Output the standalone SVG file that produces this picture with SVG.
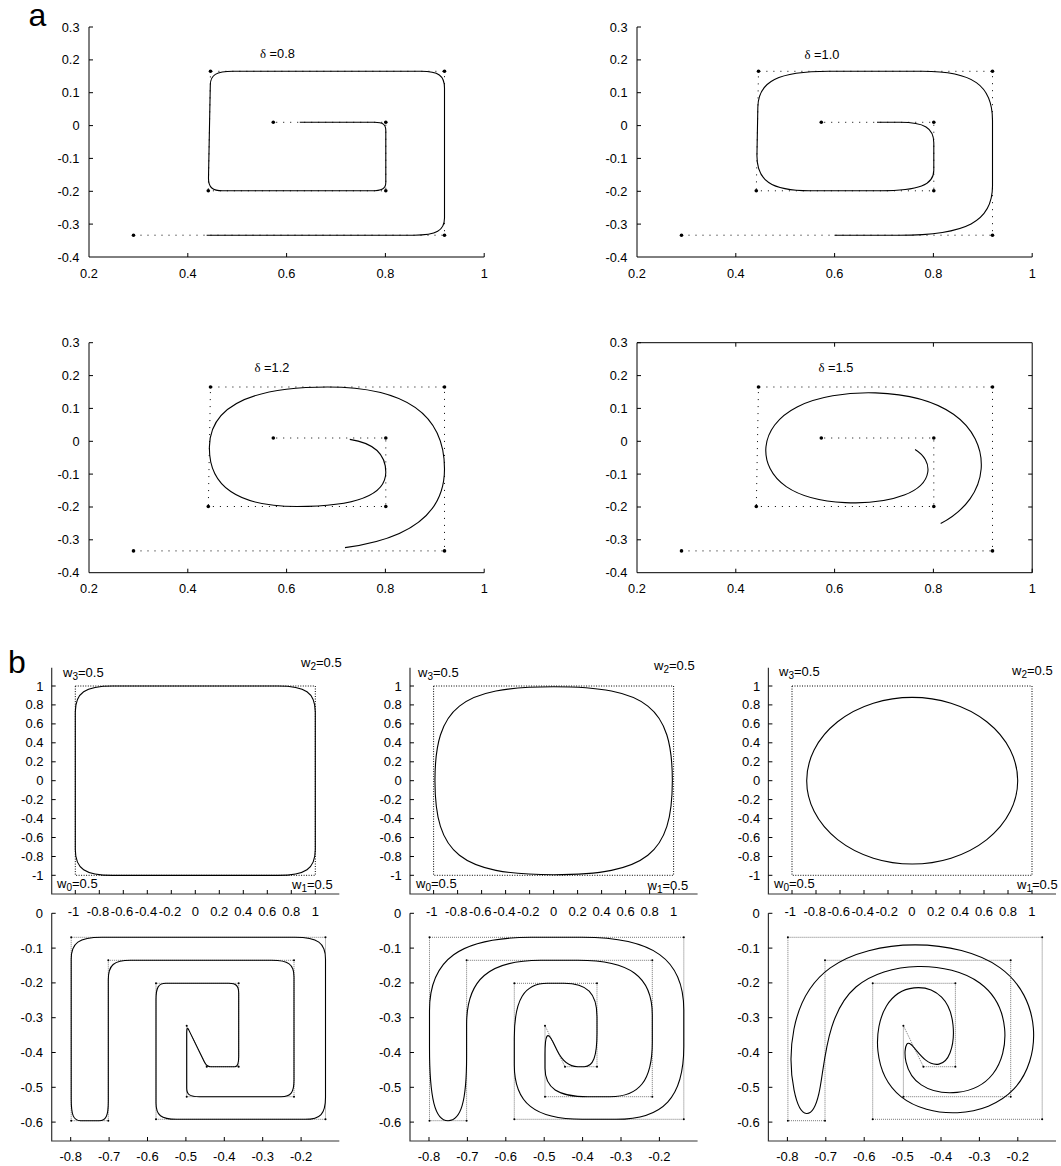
<svg xmlns="http://www.w3.org/2000/svg" width="1061" height="1166" viewBox="0 0 1061 1166">
<style>
.ax{fill:none;stroke:#000;stroke-width:1}
.axb{fill:none;stroke:#333;stroke-width:1.2}
.t{font-family:"Liberation Sans",Arial,Helvetica,sans-serif;fill:#000}
.ta{font-size:12.8px}
.tb{font-size:13px}
.tw{font-size:13px}
.r{text-anchor:end}
.m{text-anchor:middle}
.poly{fill:none;stroke:#000;stroke-width:1;stroke-dasharray:1 6}
.rect{fill:none;stroke:#000;stroke-width:1;stroke-dasharray:1 1.5}
.bpoly{fill:none;stroke:#555;stroke-width:0.8;stroke-dasharray:1 1}
.cv{fill:none;stroke:#000;stroke-width:1.1}
.big{font-size:32px}
.sym{font-family:"Liberation Serif","Times New Roman",serif}
</style>
<defs>
<g id="aAxes">
<path class="ax" d="M89,27 V257 H484.2 M89,27 h4 M89,59.9 h4 M89,92.7 h4 M89,125.6 h4 M89,158.4 h4 M89,191.3 h4 M89,224.1 h4 M187.8,257 v-4 M286.6,257 v-4 M385.4,257 v-4 M484.2,257 v-4"/>
<g class="t ta r">
<text x="79.5" y="31.5">0.3</text><text x="79.5" y="64.4">0.2</text><text x="79.5" y="97.2">0.1</text><text x="79.5" y="130.1">0</text><text x="79.5" y="162.9">-0.1</text><text x="79.5" y="195.8">-0.2</text><text x="79.5" y="228.6">-0.3</text><text x="79.5" y="261.5">-0.4</text>
</g>
<g class="t ta m">
<text x="89" y="277.5">0.2</text><text x="187.8" y="277.5">0.4</text><text x="286.6" y="277.5">0.6</text><text x="385.4" y="277.5">0.8</text><text x="484.2" y="277.5">1</text>
</g>
</g>
<g id="aPoly">
<polyline class="poly" points="133.5,235.2 444.5,235.2 444.5,71.3 210.5,71.3 208.3,190.8 385.8,190.8 385.8,122.3 273.3,122.3"/>
<g fill="#000">
<circle cx="133.5" cy="235.2" r="1.8"/><circle cx="444.5" cy="235.2" r="1.8"/><circle cx="444.5" cy="71.3" r="1.8"/><circle cx="210.5" cy="71.3" r="1.8"/><circle cx="208.3" cy="190.8" r="1.8"/><circle cx="385.8" cy="190.8" r="1.8"/><circle cx="385.8" cy="122.3" r="1.8"/><circle cx="273.3" cy="122.3" r="1.8"/>
</g>
</g>
<g id="bTopAxes">
<path class="axb" d="M51.7,667.7 V894 H339.3"/>
<path class="ax" d="M51.7,686 h4 M51.7,704.9 h4 M51.7,723.9 h4 M51.7,742.8 h4 M51.7,761.8 h4 M51.7,780.7 h4 M51.7,799.6 h4 M51.7,818.6 h4 M51.7,837.5 h4 M51.7,856.5 h4 M51.7,875.3 h4 M75.3,894 v-4 M99.3,894 v-4 M123.3,894 v-4 M147.3,894 v-4 M171.3,894 v-4 M195.3,894 v-4 M219.3,894 v-4 M243.3,894 v-4 M267.3,894 v-4 M291.3,894 v-4 M315.3,894 v-4"/>
<g class="t tb r">
<text x="43.5" y="690.5">1</text><text x="43.5" y="709.4">0.8</text><text x="43.5" y="728.4">0.6</text><text x="43.5" y="747.3">0.4</text><text x="43.5" y="766.3">0.2</text><text x="43.5" y="785.2">0</text><text x="43.5" y="804.1">-0.2</text><text x="43.5" y="823.1">-0.4</text><text x="43.5" y="842">-0.6</text><text x="43.5" y="861">-0.8</text><text x="43.5" y="879.8">-1</text>
</g>
<g class="t tb m">
<text x="73.5" y="915.5">-1</text><text x="98" y="915.5">-0.8</text><text x="122" y="915.5">-0.6</text><text x="146" y="915.5">-0.4</text><text x="170" y="915.5">-0.2</text><text x="195.3" y="915.5">0</text><text x="219.3" y="915.5">0.2</text><text x="243.3" y="915.5">0.4</text><text x="267.3" y="915.5">0.6</text><text x="291.3" y="915.5">0.8</text><text x="315.3" y="915.5">1</text>
</g>
<rect class="rect" x="75.3" y="686" width="240" height="189.3"/>
</g>
<g id="bBotAxes">
<path class="axb" d="M51.7,913.3 V1141 H339.3"/>
<path class="ax" d="M51.7,913.3 h4 M51.7,948.1 h4 M51.7,982.9 h4 M51.7,1017.7 h4 M51.7,1052.5 h4 M51.7,1087.3 h4 M51.7,1122.1 h4 M70.7,1141 v-4 M109.1,1141 v-4 M147.5,1141 v-4 M185.9,1141 v-4 M224.3,1141 v-4 M262.7,1141 v-4 M301.1,1141 v-4"/>
<g class="t tb r">
<text x="43" y="917.8">0</text><text x="43" y="952.6">-0.1</text><text x="43" y="987.4">-0.2</text><text x="43" y="1022.2">-0.3</text><text x="43" y="1057">-0.4</text><text x="43" y="1091.8">-0.5</text><text x="43" y="1126.6">-0.6</text>
</g>
<g class="t tb m">
<text x="70.7" y="1160.5">-0.8</text><text x="109.1" y="1160.5">-0.7</text><text x="147.5" y="1160.5">-0.6</text><text x="185.9" y="1160.5">-0.5</text><text x="224.3" y="1160.5">-0.4</text><text x="262.7" y="1160.5">-0.3</text><text x="301.1" y="1160.5">-0.2</text>
</g>
<polygon class="bpoly" points="186.7,1025.7 206.7,1066.7 238.7,1066.7 238.7,983.3 156,983.3 156,1119.3 325.5,1119.3 325.5,937.3 71.2,937.3 71.2,1120.7 108.3,1120.7 108.3,960.3 294,960.3 294,1096.7 186.7,1096.7"/>
<g fill="#000">
<circle cx="186.7" cy="1025.7" r="1"/><circle cx="206.7" cy="1066.7" r="1"/><circle cx="238.7" cy="1066.7" r="1"/><circle cx="238.7" cy="983.3" r="1"/><circle cx="156" cy="983.3" r="1"/><circle cx="156" cy="1119.3" r="1"/><circle cx="325.5" cy="1119.3" r="1"/><circle cx="325.5" cy="937.3" r="1"/><circle cx="71.2" cy="937.3" r="1"/><circle cx="71.2" cy="1120.7" r="1"/><circle cx="108.3" cy="1120.7" r="1"/><circle cx="108.3" cy="960.3" r="1"/><circle cx="294" cy="960.3" r="1"/><circle cx="294" cy="1096.7" r="1"/><circle cx="186.7" cy="1096.7" r="1"/>
</g>
</g>
</defs>

<text class="t big" x="28.5" y="26">a</text>
<text class="t big" x="8" y="673.3">b</text>

<g id="panel-a1">
<use href="#aAxes"/>
<use href="#aPoly"/>
<path class="cv" d="M206.6,235.2 L414,235.2 C436.5,235.2 444.5,230.5 444.5,218 L444.5,88 C444.5,75.5 438.5,71.3 421,71.3 L233,71.3 C216,71.3 210.45,75 210.3,85 L208.5,178 C208.35,187.5 212.8,190.8 222.5,190.8 L371,190.8 C382,190.8 385.8,188.7 385.8,182.5 L385.8,130.5 C385.8,124.3 383,122.3 374.5,122.3 L299.74,122.3"/>
<text class="t ta" x="260" y="58"><tspan class="sym">δ</tspan> =0.8</text>
</g>

<g id="panel-a2" transform="translate(548,0)">
<use href="#aAxes"/>
<use href="#aPoly"/>
<path class="cv" d="M286.5,235.2 L351.2,235.2 C418.38,235.2 444.5,221.43 444.5,186.03 L444.5,120.47 C444.5,85.07 424.84,71.3 374.3,71.3 L280.7,71.3 C230.16,71.3 210.32,81.34 209.84,107.15 L208.96,154.95 C208.48,180.76 223.21,190.8 261.55,190.8 L332.55,190.8 C370.89,190.8 385.8,185.05 385.8,170.25 L385.8,142.85 C385.8,128.05 376.35,122.3 352.05,122.3 L329,122.3"/>
<text class="t ta" x="256.5" y="59"><tspan class="sym">δ</tspan> =1.0</text>
</g>

<g id="panel-a3" transform="translate(0,315.7)">
<use href="#aAxes"/>
<use href="#aPoly"/>
<path class="cv" d="M344.98,231.92 Q444.5,218.81 444.5,153.25 Q444.5,71.3 327.5,71.3 Q210.5,71.3 209.4,131.05 Q208.3,190.8 297.05,190.8 Q385.8,190.8 385.8,156.55 Q385.8,129.15 349.8,123.67"/>
<text class="t ta" x="254.5" y="56"><tspan class="sym">δ</tspan> =1.2</text>
</g>

<g id="panel-a4" transform="translate(548,315.7)">
<use href="#aAxes"/>
<path class="ax" d="M89,27 H484.2 V257 M187.8,27 v4 M286.6,27 v4 M385.4,27 v4 M484.2,59.9 h-4 M484.2,92.7 h-4 M484.2,125.6 h-4 M484.2,158.4 h-4 M484.2,191.3 h-4 M484.2,224.1 h-4"/>
<use href="#aPoly"/>
<path class="cv" d="M392.67,207.88 C444.5,180.57 444.5,125.93 405.5,98.62 C366.5,71.3 288.5,71.3 249.13,91.22 C209.77,111.13 209.03,150.97 238.25,170.88 C267.47,190.8 326.63,190.8 356.22,179.38 C385.8,167.97 385.8,145.13 367.05,133.72"/>
<text class="t ta" x="270.5" y="56"><tspan class="sym">δ</tspan> =1.5</text>
</g>

<g id="panel-b1">
<use href="#bTopAxes"/>
<path class="cv" d="M315.3,712 C315.3,692.5 305.5,686.05 278,686.05 L112.6,686.05 C85.1,686.05 75.3,692.5 75.3,712 L75.3,849.4 C75.3,868.9 85.1,875.35 112.6,875.35 L278,875.35 C305.5,875.35 315.3,868.9 315.3,849.4 Z"/>
<g class="t tw">
<text x="63" y="677">w<tspan font-size="10" dy="3">3</tspan><tspan dy="-3">=0.5</tspan></text>
<text x="301" y="667">w<tspan font-size="10" dy="3">2</tspan><tspan dy="-3">=0.5</tspan></text>
<text x="57" y="888">w<tspan font-size="10" dy="3">0</tspan><tspan dy="-3">=0.5</tspan></text>
<text x="292" y="888.5">w<tspan font-size="10" dy="3">1</tspan><tspan dy="-3">=0.5</tspan></text>
</g>
</g>

<g id="panel-b2">
<g transform="translate(358.3,0)">
<use href="#bTopAxes"/>
<path class="cv" d="M314.05,780.7 C314.05,707.1 288.29,686.7 195.35,686.7 C102.41,686.7 76.65,707.1 76.65,780.7 C76.65,854.3 102.41,874.7 195.35,874.7 C288.29,874.7 314.05,854.3 314.05,780.7 Z"/>
</g>
<g class="t tw">
<text x="418" y="677">w<tspan font-size="10" dy="3">3</tspan><tspan dy="-3">=0.5</tspan></text>
<text x="654" y="670">w<tspan font-size="10" dy="3">2</tspan><tspan dy="-3">=0.5</tspan></text>
<text x="416" y="888">w<tspan font-size="10" dy="3">0</tspan><tspan dy="-3">=0.5</tspan></text>
<text x="647.5" y="889.5">w<tspan font-size="10" dy="3">1</tspan><tspan dy="-3">=0.5</tspan></text>
</g>
</g>

<g id="panel-b3">
<g transform="translate(716.7,0)">
<use href="#bTopAxes"/>
<ellipse class="cv" cx="195.5" cy="780.7" rx="105.5" ry="83.3"/>
</g>
<g class="t tw">
<text x="779" y="676">w<tspan font-size="10" dy="3">3</tspan><tspan dy="-3">=0.5</tspan></text>
<text x="1012" y="675">w<tspan font-size="10" dy="3">2</tspan><tspan dy="-3">=0.5</tspan></text>
<text x="774" y="888">w<tspan font-size="10" dy="3">0</tspan><tspan dy="-3">=0.5</tspan></text>
<text x="1017" y="889">w<tspan font-size="10" dy="3">1</tspan><tspan dy="-3">=0.5</tspan></text>
</g>
</g>

<g id="panel-b4">
<use href="#bBotAxes"/>
<path class="cv" d="M189.1,1030.62 L204.3,1061.78 C206.1,1065.47 207.66,1066.7 210.54,1066.7 L234.86,1066.7 C237.74,1066.7 238.7,1064.2 238.7,1056.69 L238.7,993.31 C238.7,985.8 236.22,983.3 228.78,983.3 L165.92,983.3 C158.48,983.3 156,987.38 156,999.62 L156,1102.98 C156,1115.22 161.09,1119.3 176.34,1119.3 L305.16,1119.3 C320.42,1119.3 325.5,1113.84 325.5,1097.46 L325.5,959.14 C325.5,942.76 317.87,937.3 294.98,937.3 L101.72,937.3 C78.83,937.3 71.2,942.8 71.2,959.31 L71.2,1098.69 C71.2,1115.2 73.5,1120.7 80.5,1120.7 L99,1120.7 C106,1120.7 108.3,1115.89 108.3,1101.45 L108.3,979.55 C108.3,965.11 113.87,960.3 130.58,960.3 L271.72,960.3 C288.43,960.3 294,964.39 294,976.67 L294,1080.33 C294,1092.61 290.78,1096.7 281.12,1096.7 L199.58,1096.7 C189.92,1096.7 186.7,1094.57 186.7,1088.18 L186.7,1034.22 C186.7,1027.83 187.3,1026.93 189.1,1030.62 Z"/>
</g>

<g id="panel-b5" transform="translate(358.3,0)">
<use href="#bBotAxes"/>
<path class="cv" d="M194.7,1042.1 L198.7,1050.3 C204.3,1061.78 210.54,1066.7 219.5,1066.7 L225.9,1066.7 C234.86,1066.7 238.7,1056.69 238.7,1033.34 L238.7,1016.66 C238.7,993.31 228.78,983.3 205.62,983.3 L189.08,983.3 C165.92,983.3 156,999.62 156,1037.7 L156,1064.9 C156,1102.98 176.34,1119.3 223.8,1119.3 L257.7,1119.3 C305.16,1119.3 325.5,1097.46 325.5,1046.5 L325.5,1010.1 C325.5,959.14 294.98,937.3 223.78,937.3 L172.92,937.3 C101.72,937.3 71.2,959.31 71.2,1010.66 L71.2,1047.34 C71.2,1098.69 76.77,1120.7 89.75,1120.7 C102.73,1120.7 108.3,1101.45 108.3,1056.54 L108.3,1024.46 C108.3,979.55 130.58,960.3 182.58,960.3 L219.72,960.3 C271.72,960.3 294,976.67 294,1014.86 L294,1042.14 C294,1080.33 281.12,1096.7 251.78,1096.7 L229.62,1096.7 C199.58,1096.7 186.7,1088.18 186.7,1068.3 L186.7,1054.1 C186.7,1034.22 189.1,1030.62 194.7,1042.1 Z"/>
</g>

<g id="panel-b6" transform="translate(716.7,0)">
<use href="#bBotAxes"/>
<path class="cv" d="M190.03,1044.37 C193.37,1039.37 200.03,1053.03 208.7,1059.87 C217.37,1066.7 228.03,1066.7 233.37,1052.8 C238.7,1038.9 238.7,1011.1 224.92,997.2 C211.13,983.3 183.57,983.3 169.78,1005.97 C156,1028.63 156,1073.97 184.25,1096.63 C212.5,1119.3 269,1119.3 297.25,1088.97 C325.5,1058.63 325.5,997.97 283.12,967.63 C240.73,937.3 155.97,937.3 113.58,967.87 C71.2,998.43 71.2,1059.57 77.38,1090.13 C83.57,1120.7 95.93,1120.7 102.12,1093.97 C108.3,1067.23 108.3,1013.77 139.25,987.03 C170.2,960.3 232.1,960.3 263.05,983.03 C294,1005.77 294,1051.23 276.12,1073.97 C258.23,1096.7 222.47,1096.7 204.58,1084.87 C186.7,1073.03 186.7,1049.37 190.03,1044.37 Z"/>
</g>
</svg>
